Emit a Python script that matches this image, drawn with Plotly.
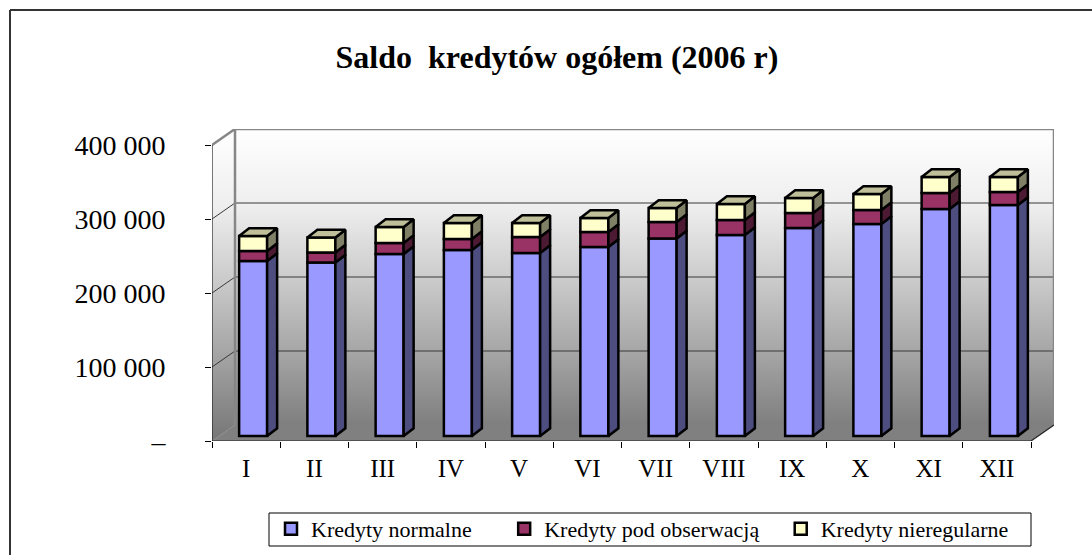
import plotly.graph_objects as go

months = ["I", "II", "III", "IV", "V", "VI", "VII", "VIII", "IX", "X", "XI", "XII"]
normalne = [236500, 234500, 246000, 251400, 247300, 255400, 266900, 271600, 281100, 286500, 306800, 312200]
pod_obserwacja = [13500, 13500, 14900, 14900, 21600, 20300, 22300, 20300, 20300, 18900, 21600, 17600]
nieregularne = [20300, 20300, 21600, 21600, 18900, 18900, 18900, 21600, 20300, 21600, 21600, 20300]
y_ticks = [0, 100000, 200000, 300000, 400000]
y_labels = ["–", "100 000", "200 000", "300 000", "400 000"]
names = ["Kredyty normalne", "Kredyty pod obserwacją", "Kredyty nieregularne"]
legend_pad = [5, 3, 0]
front_colors = ["#9999FF", "#993366", "#FFFFCC"]
side_colors = ["#4D4D80", "#4D1A33", "#808066"]
top_colors = ["#7373BF", "#732650", "#BFBF99"]

W, H = 1092, 555
def fx(px): return px / W
def fy(px): return 1 - px / H

X0, X12, X_BACK = 212, 1031, 1054
Y0, Y400, Y_BACK = 441, 145, 129
PX_X = (X12 - X0) / 12
PX_Y = (Y0 - Y400) / 400000
WALL_DX, WALL_DY = (X_BACK - X12) / PX_X, (Y400 - Y_BACK) / PX_Y
BAR_W = 28 / PX_X
BAR_SHIFT = 7 / PX_X
BAR_BASE = 5 / PX_Y
BAR_DX, BAR_DY = 10 / PX_X, 7.7 / PX_Y
XMAX, YMAX = 12 + WALL_DX, 400000 + WALL_DY
FONT = "Liberation Serif"
WALL_SCALE = [[0, "#ffffff"], [0.25, "#eeeeee"], [0.5, "#c8c8c8"], [0.75, "#a0a0a0"], [1, "#767676"]]

fig = go.Figure()


def wall(xs, ys):
    fig.add_trace(go.Scatter(
        x=xs, y=ys, mode="none", fill="toself", showlegend=False, hoverinfo="skip",
        fillgradient=dict(type="vertical", colorscale=WALL_SCALE, start=YMAX, stop=0),
    ))


def line(xs, ys, color, width):
    fig.add_trace(go.Scatter(x=xs, y=ys, mode="lines", showlegend=False, hoverinfo="skip",
                             line=dict(color=color, width=width)))


# walls and floor
wall([WALL_DX, XMAX, XMAX, WALL_DX, WALL_DX], [WALL_DY, WALL_DY, YMAX, YMAX, WALL_DY])
wall([0, WALL_DX, WALL_DX, 0, 0], [0, WALL_DY, YMAX, 400000, 0])
fig.add_trace(go.Scatter(x=[0, 12, XMAX, WALL_DX, 0], y=[0, 0, WALL_DY, WALL_DY, 0], mode="none",
                         fill="toself", fillcolor="#808080", showlegend=False, hoverinfo="skip"))
for t in y_ticks[1:4]:
    line([0, WALL_DX, XMAX], [t, t + WALL_DY, t + WALL_DY], "#383838", 1)
line([0, WALL_DX, XMAX, XMAX], [400000, YMAX, YMAX, WALL_DY], "#868686", 2.5)
line([WALL_DX, WALL_DX], [WALL_DY, YMAX], "#868686", 2.5)
line([0, WALL_DX], [0, WALL_DY], "#8c8c8c", 1)
line([0, 0], [0, 400000], "#222222", 1.2)
line([0, 12, XMAX], [0, 0, WALL_DY], "#222222", 1.2)

# bars
bottoms = [BAR_BASE] * 12
centers = [i + 0.5 + BAR_SHIFT for i in range(12)]
series = [normalne, pod_obserwacja, nieregularne]
stack = []
for k, vals in enumerate(series):
    fig.add_trace(go.Bar(
        x=centers, y=vals, base=bottoms, width=BAR_W, name=names[k] + "\u00a0" * legend_pad[k],
        xaxis="x2", yaxis="y2",
        marker=dict(color=front_colors[k], line=dict(color="black", width=2.5)),
    ))
    tops = [b + v for b, v in zip(bottoms, vals)]
    stack.append((bottoms, tops))
    bottoms = tops

for k, (lows, highs) in enumerate(stack):
    sx, sy = [], []
    for c, lo, hi in zip(centers, lows, highs):
        r = c + BAR_W / 2
        sx += [r, r + BAR_DX, r + BAR_DX, r, r, None]
        sy += [lo, lo + BAR_DY, hi + BAR_DY, hi, lo, None]
    fig.add_trace(go.Scatter(x=sx, y=sy, mode="lines", fill="toself", fillcolor=side_colors[k],
                             line=dict(color="black", width=2.5), xaxis="x2", yaxis="y2",
                             showlegend=False, hoverinfo="skip"))
tx, ty = [], []
for c, hi in zip(centers, stack[-1][1]):
    l, r = c - BAR_W / 2, c + BAR_W / 2
    tx += [l, r, r + BAR_DX, l + BAR_DX, l, None]
    ty += [hi, hi, hi + BAR_DY, hi + BAR_DY, hi, None]
fig.add_trace(go.Scatter(x=tx, y=ty, mode="lines", fill="toself", fillcolor=top_colors[2],
                         line=dict(color="black", width=2.5), xaxis="x2", yaxis="y2",
                         showlegend=False, hoverinfo="skip"))

x_domain = [fx(X0), fx(X_BACK)]
y_domain = [fy(Y0), fy(Y_BACK)]
fig.update_layout(
    width=W, height=H, autosize=False, margin=dict(l=0, r=0, t=0, b=0, autoexpand=False),
    paper_bgcolor="white", plot_bgcolor="rgba(0,0,0,0)", barmode="overlay",
    font=dict(family=FONT, color="black"),
    title=dict(text="<b>Saldo \u00a0kredytów ogółem (2006 r)</b>", x=fx(557), y=fy(57),
               xanchor="center", yanchor="middle", font=dict(family=FONT, size=32, color="black")),
    xaxis=dict(domain=x_domain, range=[0, XMAX], tickmode="array",
               tickvals=[i + 0.5 for i in range(12)], ticktext=months, ticks="",
               minor=dict(tickmode="array", tickvals=list(range(13)), ticks="outside", ticklen=6,
                          tickcolor="black", tickwidth=1),
               showgrid=False, zeroline=False, showline=False,
               tickfont=dict(family=FONT, size=25, color="black"), ticklabelstandoff=10),
    yaxis=dict(domain=y_domain, range=[0, YMAX], tickmode="array", tickvals=y_ticks, ticktext=y_labels,
               ticks="outside", ticklen=6, tickcolor="black", tickwidth=1,
               showgrid=False, zeroline=False, showline=False,
               tickfont=dict(family=FONT, size=28, color="black"), ticklabelstandoff=34),
    xaxis2=dict(domain=x_domain, range=[0, XMAX], overlaying="x", anchor="y2", visible=False),
    yaxis2=dict(domain=y_domain, range=[0, YMAX], overlaying="y", anchor="x2", visible=False),
    legend=dict(orientation="h", x=fx(271), y=fy(508), xanchor="left", yanchor="top",
                borderwidth=0, bgcolor="rgba(0,0,0,0)", traceorder="normal",
                font=dict(family=FONT, size=22, color="black")),
    shapes=[
        dict(type="line", xref="paper", yref="paper", x0=fx(10), x1=1, y0=fy(10), y1=fy(10),
             line=dict(color="#333333", width=2)),
        dict(type="line", xref="paper", yref="paper", x0=fx(10), x1=fx(10), y0=fy(10), y1=0,
             line=dict(color="#333333", width=2)),
        dict(type="rect", xref="paper", yref="paper", x0=fx(269), x1=fx(1031), y0=fy(546), y1=fy(513),
             line=dict(color="black", width=1), fillcolor="white", layer="below"),
    ],
    showlegend=True,
)
fig.write_html("out.html", config={"displayModeBar": False},
               post_script="document.body.style.margin='0';document.body.style.overflow='hidden';")
